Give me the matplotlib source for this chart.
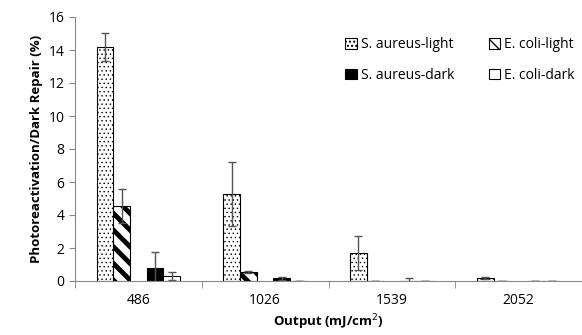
import numpy as np
import matplotlib.pyplot as plt

plt.rcParams['font.family'] = ['Open Sans', 'DejaVu Sans']

# data
doses = ['486', '1026', '1539', '2052']
aureus_light = [14.2, 5.27, 1.7, 0.2]
aureus_light_err = [0.85, 1.95, 1.05, 0.07]
coli_light = [4.55, 0.55, 0.03, 0.0]
coli_light_err = [1.05, 0.05, 0.0, 0.0]
aureus_dark = [0.78, 0.17, 0.02, 0.02]
aureus_dark_err = [0.95, 0.1, 0.18, 0.0]
coli_dark = [0.3, 0.03, 0.02, 0.02]
coli_dark_err = [0.25, 0.0, 0.0, 0.0]

fig = plt.figure(figsize=(5.82, 3.35), dpi=100)
ax = fig.add_axes([75/582, 1-281/335, 1-75/582, (281-17)/335])

x = np.arange(len(doses))
w = 17/129
ekw = dict(ecolor='#555555', elinewidth=1, capsize=3, capthick=1)

b1 = ax.bar(x - 2*w, aureus_light, w, yerr=aureus_light_err, color='white', edgecolor='black',
            hatch='....', linewidth=0.8, error_kw=ekw, label='S. aureus-light')
for p in b1:
    p.set_hatch_linewidth(0.5)
b2 = ax.bar(x - w, coli_light, w, yerr=coli_light_err, color='white', edgecolor='black',
            hatch='\\\\', linewidth=0.8, error_kw=ekw, label='E. coli-light')
for p in b2:
    p.set_hatch_linewidth(3.5)
b3 = ax.bar(x + w, aureus_dark, w, yerr=aureus_dark_err, color='black', edgecolor='black',
            linewidth=0.8, error_kw=ekw, label='S. aureus-dark')
b4 = ax.bar(x + 2*w, coli_dark, w, yerr=coli_dark_err, color='white', edgecolor='black',
            linewidth=0.8, error_kw=ekw, label='E. coli-dark')

ax.set_xlim(-0.5, 3.43)
ax.set_ylim(0, 16)
ax.set_yticks(range(0, 17, 2))
ax.set_xticks(x)
ax.set_xticklabels(doses)
ax.set_xticks(np.arange(-0.5, 4, 1), minor=True)
ax.tick_params(axis='x', which='major', length=0, pad=9, labelsize=10)
ax.tick_params(axis='x', which='minor', length=5, color='#888888')
ax.tick_params(axis='y', length=4, color='#888888', labelsize=10)

for s in ['top', 'right']:
    ax.spines[s].set_visible(False)
ax.spines['left'].set_color('#888888')
ax.spines['bottom'].set_color('#888888')

ax.set_ylabel('Photoreactivation/Dark Repair (%)', fontweight='bold', fontsize=9.5)
ax.set_xlabel('Output (mJ/cm$^2$)', fontweight='bold', fontsize=9.5, labelpad=3)

ax.legend([b1, b3, b2, b4], ['S. aureus-light', 'S. aureus-dark', 'E. coli-light', 'E. coli-dark'],
          ncol=2, frameon=False, fontsize=10, loc='upper right', bbox_to_anchor=(1.01, 0.97),
          handlelength=0.8, handleheight=0.8, handletextpad=0.3, columnspacing=2.5, labelspacing=1.1)

plt.savefig('out.png', dpi=100)
